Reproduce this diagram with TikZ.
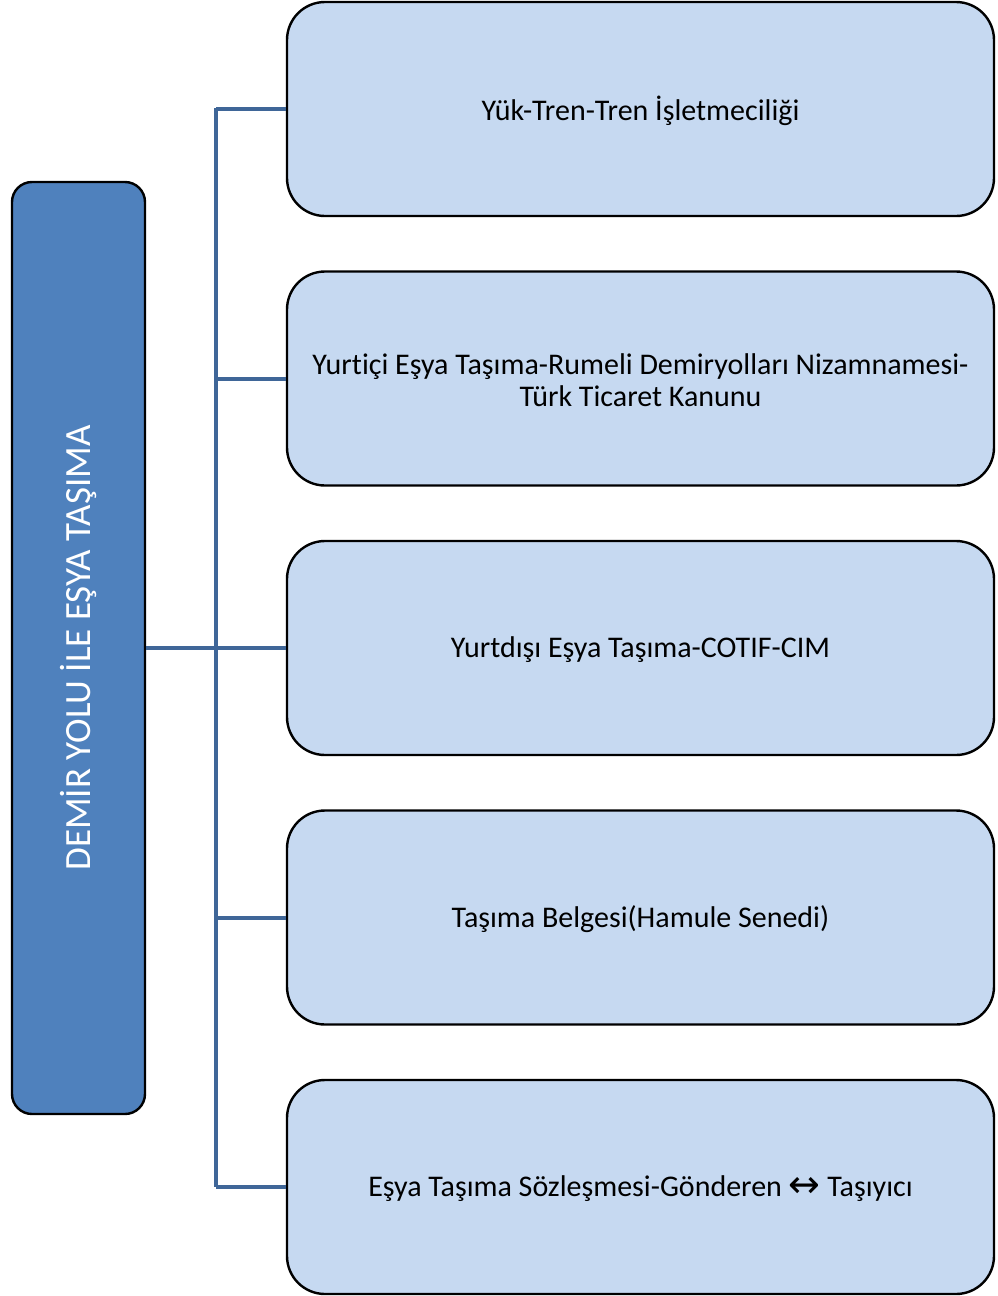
\documentclass[tikz,border=0pt]{standalone}
\usepackage{fontspec}
\setmainfont[Ligatures=NoCommon]{Carlito}
\newfontfamily\symfont{DejaVu Sans}
\begin{document}
\begin{tikzpicture}[x=1pt,y=-1pt,
  mainbox/.style={draw=black,line width=2.4pt,fill=main,rounded corners=20pt,minimum width=133pt,minimum height=932pt,inner sep=0pt},
  subbox/.style={draw=black,line width=2.4pt,fill=sub,rounded corners=38pt,minimum width=707pt,minimum height=214pt,inner sep=0pt},
  subtext/.style={align=center,font=\fontsize{30}{32}\selectfont,inner sep=0pt},
  conn/.style={draw=connc,line width=4pt}]
\definecolor{main}{HTML}{4F81BD}
\definecolor{sub}{HTML}{C6D9F1}
\definecolor{connc}{HTML}{3F6698}
\useasboundingbox (0,0) rectangle (998,1296);
\node[mainbox] (m) at (78.5,648) {};
\node[rotate=90,text=white,font=\fontsize{37}{40}\selectfont] (mt) at (m.center) {DEMİR YOLU İLE EŞYA TAŞIMA};
\node[subbox] (b1) at (640.5,109) {};
\node[subbox] (b2) at (640.5,378.5) {};
\node[subbox] (b3) at (640.5,648) {};
\node[subbox] (b4) at (640.5,917.5) {};
\node[subbox] (b5) at (640.5,1187) {};
\node[subtext] (t1) at ([yshift=-2pt]b1.center) {Yük-Tren-Tren İşletmeciliği};
\node[subtext] (t2) at ([yshift=-2pt]b2.center) {Yurtiçi Eşya Taşıma-Rumeli Demiryolları Nizamnamesi-\\Türk Ticaret Kanunu};
\node[subtext] (t3) at ([yshift=-2pt]b3.center) {Yurtdışı Eşya Taşıma-COTIF-CIM};
\node[subtext] (t4) at ([yshift=-2pt]b4.center) {Taşıma Belgesi(Hamule Senedi)};
\node[subtext] (t5) at ([yshift=-2pt]b5.center) {Eşya Taşıma Sözleşmesi-Gönderen {\symfont\fontsize{38}{32}\selectfont\raisebox{-1pt}{↔}} Taşıyıcı};
\coordinate (t) at (216,108);
\coordinate (bt) at (216,1187);
\coordinate (j) at (216,648);
\draw[conn] (t) -- (bt);
\draw[conn] (m.east) -- (j);
\foreach \b in {b1,b2,b3,b4,b5}{
  \draw[conn] (216,0 |- \b.west) -- (\b.west);
}
\end{tikzpicture}
\end{document}
